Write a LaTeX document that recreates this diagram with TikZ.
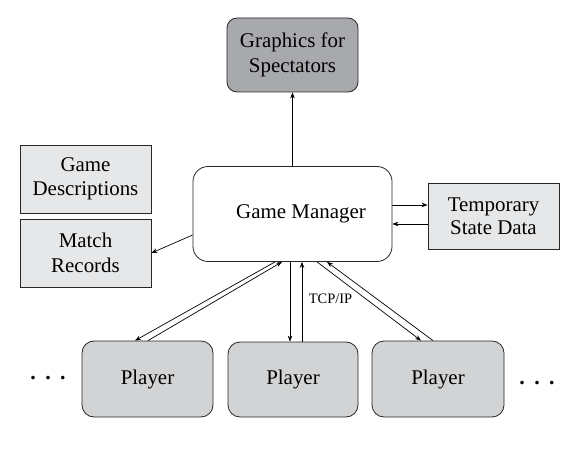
\documentclass[tikz,border=0pt]{standalone}
\usepackage{fontspec}
\setmainfont{Liberation Serif}
\usetikzlibrary{arrows.meta,calc}
\definecolor{darkbox}{HTML}{A7A9AC}
\definecolor{midbox}{HTML}{D1D3D4}
\definecolor{lightbox}{HTML}{E6E7E8}
\tikzset{
  box/.style={draw=black!85, line width=0.8bp, align=center, inner sep=0pt,
    font=\fontsize{21}{24.5}\selectfont},
  arr/.style={-{Stealth[length=6bp,width=4.5bp]}, line width=0.7bp},
}
\begin{document}
\begin{tikzpicture}[x=1bp,y=-1bp]
\useasboundingbox (0,0) rectangle (575,470);
\node[box, fill=darkbox, rounded corners=10bp, minimum width=131bp, minimum height=74bp] (gfx) at (292.5,55) {Graphics for\\Spectators};
\node[box, fill=lightbox, minimum width=131bp, minimum height=68bp] (gd) at (85.5,179) {Game\\Descriptions};
\node[box, fill=lightbox, minimum width=131bp, minimum height=68bp] (mr) at (85.5,253) {Match\\Records};
\node[box, fill=white, rounded corners=15bp, minimum width=199bp, minimum height=95bp] (gm) at (292.5,214) {\hspace*{17bp}Game Manager};
\node[box, fill=lightbox, minimum width=131bp, minimum height=66bp, font=\fontsize{21}{23.5}\selectfont] (tsd) at (493.5,216) {Temporary\\State Data};
\node[box, fill=midbox, rounded corners=12bp, minimum width=131bp, minimum height=76bp] (p1) at (147.5,379) {Player};
\node[box, fill=midbox, rounded corners=12bp, minimum width=130bp, minimum height=75bp] (p2) at (293,379.5) {Player};
\node[box, fill=midbox, rounded corners=12bp, minimum width=132bp, minimum height=76bp] (p3) at (438,379) {Player};
\node[font=\fontsize{14.5}{16}\selectfont, inner sep=0pt] (tcp) at (330.5,299) {TCP/IP};
\node[font=\fontsize{22}{24}\selectfont\bfseries, inner sep=0pt, anchor=base] (dl) at (48,379) {.\hspace{9.5bp}.\hspace{9.5bp}.};
\node[font=\fontsize{22}{24}\selectfont\bfseries, inner sep=0pt, anchor=base] (dr) at (537,384) {.\hspace{9.5bp}.\hspace{9.5bp}.};
% connectors
\draw[arr] (gm.north) -- (gfx.south);
\draw[arr] ([yshift=-21bp]gm.west) -- (mr.east);
\draw[arr] ([yshift=9bp]gm.east) -- ([yshift=9bp]gm.east -| tsd.west);
\draw[arr] ([yshift=-10bp]gm.east -| tsd.west) -- ([yshift=-10bp]gm.east);
\draw[arr] ([xshift=-2.5bp]gm.south) -- ([xshift=-3bp]p2.north);
\draw[arr] ([xshift=9bp]p2.north) -- ([xshift=9.5bp]gm.south);
\draw[arr] ([xshift=-17.5bp]gm.south) -- ([xshift=-12.5bp]p1.north);
\draw[arr] ([xshift=0.5bp]p1.north) -- ([xshift=-10.5bp]gm.south);
\draw[arr] ([xshift=24.5bp]gm.south) -- ([xshift=-17bp]p3.north);
\draw[arr] ([xshift=-5bp]p3.north) -- ([xshift=34.5bp]gm.south);
\end{tikzpicture}
\end{document}
